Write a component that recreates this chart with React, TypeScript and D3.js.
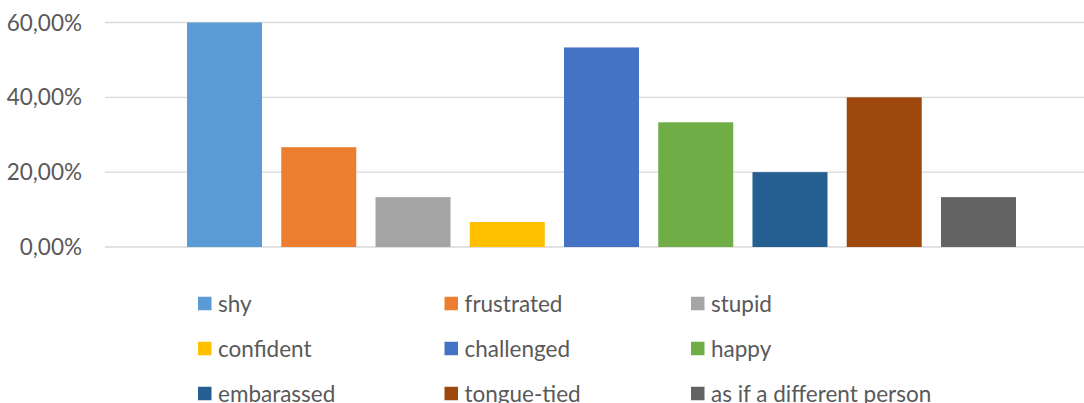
import React from "react";
import * as d3 from "d3";

const categories = [
  "shy",
  "frustrated",
  "stupid",
  "confident",
  "challenged",
  "happy",
  "embarassed",
  "tongue-tied",
  "as if a different person",
];
const values = [0.6, 0.2667, 0.1333, 0.0667, 0.5333, 0.3333, 0.2, 0.4, 0.1333];
const colors = [
  "#5B9BD5",
  "#ED7D31",
  "#A5A5A5",
  "#FFC000",
  "#4472C4",
  "#70AD47",
  "#255E91",
  "#9E480E",
  "#636363",
];
const yTicks = [0, 0.2, 0.4, 0.6];

const W = 1084;
const H = 403;
const FONT = "Lato, 'Open Sans', sans-serif";

export default function App() {
  const y = d3.scaleLinear().domain([0, 0.6]).range([247, 22.5]);
  const x = d3
    .scaleBand<string>()
    .domain(categories)
    .range([177.4, 1025.6])
    .paddingInner(0.204)
    .paddingOuter(0.102);
  const fmt = (v: number) => d3.format(".2f")(v * 100).replace(".", ",") + "%";

  const legendX = d3.scaleOrdinal<number, number>().domain([0, 1, 2]).range([198, 444.5, 691]);
  const legendY = d3.scaleOrdinal<number, number>().domain([0, 1, 2]).range([303.5, 348.5, 393.5]);

  return (
    <svg
      width={W}
      height={H}
      style={{ position: "absolute", left: 0, top: 0, background: "#fff" }}
      fontFamily={FONT}
    >
      <rect width={W} height={H} fill="#fff" />
      {yTicks.map((t) => (
        <g key={t}>
          <line x1={105} x2={W} y1={y(t)} y2={y(t)} stroke="#d9d9d9" strokeWidth={1.3} />
          <text
            x={82}
            y={y(t)}
            dy="0.36em"
            textAnchor="end"
            fontSize={22.5}
            fill="#595959"
          >
            {fmt(t)}
          </text>
        </g>
      ))}
      {categories.map((c, i) => (
        <rect
          key={c}
          x={x(c)}
          width={x.bandwidth()}
          y={y(values[i])}
          height={y(0) - y(values[i])}
          fill={colors[i]}
        />
      ))}
      {categories.map((c, i) => {
        const col = i % 3;
        const row = Math.floor(i / 3);
        const lx = legendX(col);
        const ly = legendY(row);
        return (
          <g key={"lg" + c}>
            <rect x={lx} y={ly - 6.75} width={13.5} height={13.5} fill={colors[i]} />
            <text x={lx + 20} y={ly} dy="0.36em" fontSize={22.5} fill="#595959">
              {c}
            </text>
          </g>
        );
      })}
    </svg>
  );
}
